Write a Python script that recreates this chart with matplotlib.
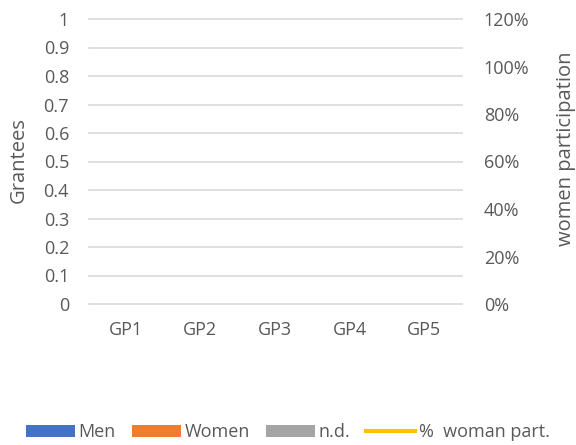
import matplotlib
matplotlib.use("Agg")
import matplotlib.pyplot as plt
import numpy as np

categories = ["GP1", "GP2", "GP3", "GP4", "GP5"]
men = [0, 0, 0, 0, 0]
women = [0, 0, 0, 0, 0]
nd = [0, 0, 0, 0, 0]
pct_women = [np.nan, np.nan, np.nan, np.nan, np.nan]
left_ticks = [0, 0.1, 0.2, 0.3, 0.4, 0.5, 0.6, 0.7, 0.8, 0.9, 1]
left_labels = ["0", "0.1", "0.2", "0.3", "0.4", "0.5", "0.6", "0.7", "0.8", "0.9", "1"]
right_ticks = [0, 0.2, 0.4, 0.6, 0.8, 1.0, 1.2]
right_labels = ["0%", "20%", "40%", "60%", "80%", "100%", "120%"]

plt.rcParams['font.family'] = ['Open Sans', 'DejaVu Sans']
txt = "#595959"
grid = "#d9d9d9"
fs = 13

fig = plt.figure(figsize=(5.76, 4.45), dpi=100)
ax = fig.add_axes([88.5 / 576, 1 - 304 / 445, 373 / 576, 285 / 445])
x = np.arange(len(categories))
w = 0.25
ax.bar(x - w, men, w, color="#4472c4", label="Men", linewidth=0)
ax.bar(x, women, w, color="#ed7d31", label="Women", linewidth=0)
ax.bar(x + w, nd, w, color="#a5a5a5", label="n.d.", linewidth=0)
ax.set_xlim(-0.5, len(categories) - 0.5)
ax.set_ylim(0, 1)
ax.set_yticks(left_ticks)
ax.set_yticklabels(left_labels)
ax.set_xticks(x)
ax.set_xticklabels(categories)
for t in left_ticks:
    ax.axhline(t, color=grid, lw=1.2, zorder=0, clip_on=False)
for s in ax.spines.values():
    s.set_visible(False)
ax.tick_params(length=0, colors=txt, labelsize=fs)
ax.tick_params(axis='y', pad=14)
ax.tick_params(axis='x', pad=12)
ax.set_ylabel("Grantees", color=txt, fontsize=14.5, va="center")
ax.yaxis.set_label_coords(-0.1877, 0.5035)

ax2 = ax.twinx()
ax2.plot(x, pct_women, color="#ffc000", lw=3, label="%  woman part.")
ax2.set_ylim(0, 1.2)
ax2.set_yticks(right_ticks)
ax2.set_yticklabels(right_labels)
for s in ax2.spines.values():
    s.set_visible(False)
ax2.tick_params(length=0, colors=txt, labelsize=fs, pad=16)
ax2.set_ylabel("women participation", color=txt, fontsize=14.5, va="center")
ax2.yaxis.set_label_coords(1.2815, 0.546)

h1, l1 = ax.get_legend_handles_labels()
h2, l2 = ax2.get_legend_handles_labels()
fig.legend(h1 + h2, l1 + l2, loc="center", bbox_to_anchor=(0.5, 1 - 432 / 445),
           ncol=4, frameon=False, fontsize=fs, labelcolor=txt,
           handlelength=2.7, handleheight=0.65, handletextpad=0.2, columnspacing=0.9)
fig.savefig("out.png", dpi=100)
